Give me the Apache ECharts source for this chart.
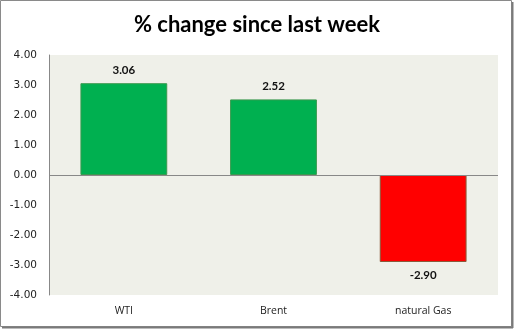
<!DOCTYPE html>
<html>
<head>
<meta charset="utf-8">
<script src="https://cdn.jsdelivr.net/npm/echarts@6/dist/echarts.min.js"></script>
<style>
html,body{margin:0;padding:0;background:#fff;}
#chart{width:514px;height:329px;}
</style>
</head>
<body>
<div id="chart"></div>
<script>
const titleText = '% change since last week';
const categories = ['WTI', 'Brent', 'natural Gas'];
const values = [3.06, 2.52, -2.90];
const yMin = -4, yMax = 4, yStep = 1;

const chart = echarts.init(document.getElementById('chart'), null, {renderer: 'canvas'});
chart.setOption({
  animation: false,
  backgroundColor: '#ffffff',
  title: {
    text: titleText,
    left: 'center',
    top: 9,
    textStyle: {fontFamily: 'Lato', fontWeight: 'bold', fontSize: 22, color: '#000'}
  },
  graphic: [
    {type: 'rect', shape: {x: 0.5, y: 0.5, width: 511, height: 326}, style: {fill: 'none', stroke: '#8a8a8a', lineWidth: 1}, silent: true},
    {type: 'line', shape: {x1: 512.5, y1: 2, x2: 512.5, y2: 328}, style: {stroke: '#7a7a7a', lineWidth: 2}, silent: true},
    {type: 'line', shape: {x1: 2, y1: 327.5, x2: 513, y2: 327.5}, style: {stroke: '#7a7a7a', lineWidth: 2}, silent: true}
  ],
  grid: {left: 49, right: 16, top: 55, bottom: 34, show: true, backgroundColor: '#eff0e9', borderWidth: 0},
  xAxis: {
    type: 'category',
    data: categories,
    position: 'bottom',
    axisLine: {show: false},
    axisTick: {show: false},
    axisLabel: {show: true, fontFamily: 'Open Sans', fontSize: 10.5, color: '#222', margin: 11},
    offset: 0
  },
  yAxis: {
    type: 'value',
    min: yMin, max: yMax, interval: yStep,
    axisLine: {show: true, lineStyle: {color: '#888', width: 1}},
    axisTick: {show: false},
    splitLine: {show: false},
    axisLabel: {fontFamily: 'DejaVu Sans', fontSize: 10.5, color: '#222', margin: 12,
      formatter: v => v.toFixed(2)}
  },
  series: [{
    type: 'bar',
    data: values.map(v => ({
      value: v,
      itemStyle: {color: v >= 0 ? '#00b050' : '#ff0000', borderColor: v >= 0 ? '#3a9a4f' : '#8a5a3a', borderWidth: 1},
      label: {position: v >= 0 ? 'top' : 'bottom'}
    })),
    barWidth: '58%',
    label: {show: true, distance: 7, fontFamily: 'Lato', fontWeight: 'bold', fontSize: 11.5, color: '#111',
      formatter: p => p.value.toFixed(2)},
    markLine: {
      silent: true, symbol: 'none', label: {show: false},
      lineStyle: {color: '#888', type: 'solid', width: 1},
      data: [{yAxis: 0}]
    }
  }]
});
</script>
</body>
</html>
